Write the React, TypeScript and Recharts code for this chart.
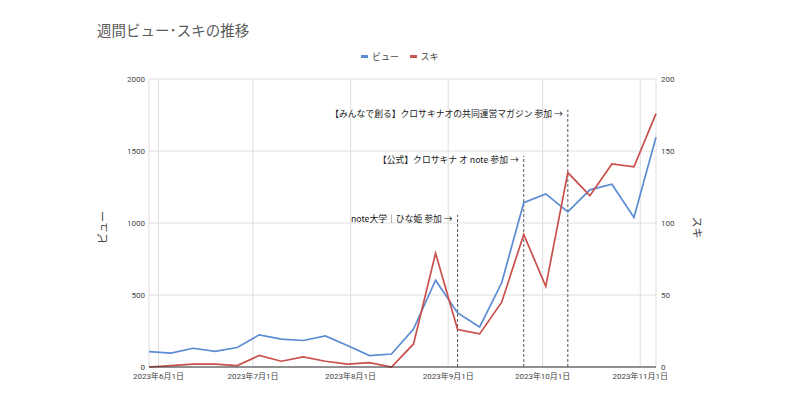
import React from 'react';
import { LineChart, Line, XAxis, YAxis, CartesianGrid, ReferenceLine, Legend } from 'recharts';

const weeks = [
  '2023-05-29', '2023-06-05', '2023-06-12', '2023-06-19', '2023-06-26', '2023-07-03',
  '2023-07-10', '2023-07-17', '2023-07-24', '2023-07-31', '2023-08-07', '2023-08-14',
  '2023-08-21', '2023-08-28', '2023-09-04', '2023-09-11', '2023-09-18', '2023-09-25',
  '2023-10-02', '2023-10-09', '2023-10-16', '2023-10-23', '2023-10-30', '2023-11-06',
];
const views = [107, 97, 130, 109, 135, 223, 193, 184, 216, 149, 79, 90, 264, 603, 376, 278, 585, 1141, 1202, 1077, 1230, 1269, 1039, 1596];
const likes = [0, 1, 2, 2, 1, 8, 4, 7, 4, 2, 3, 0, 16, 79, 26, 23, 45, 92, 56, 135, 119, 141, 139, 176];
const monthTicks = ['2023-06-01', '2023-07-01', '2023-08-01', '2023-09-01', '2023-10-01', '2023-11-01'];
const viewTicks = [0, 500, 1000, 1500, 2000];
const likeTicks = [0, 50, 100, 150, 200];
const eventDates = ['2023-09-04', '2023-09-25', '2023-10-09'];
const eventTops = [1056, 1466, 1786];
const eventTexts = [
  'note大学｜ひな姫 参加 →',
  '【公式】クロサキナ オ note 参加 →',
  '【みんなで創る】クロサキナオの共同運営マガジン 参加 →',
];
const title = '週間ビュー･スキの推移';
const viewName = 'ビュー';
const likeName = 'スキ';
const legendOrder = [viewName, likeName];

const toT = (s: string) => Date.UTC(+s.slice(0, 4), +s.slice(5, 7) - 1, +s.slice(8, 10));
const fmtDate = (t: number) => {
  const d = new Date(t);
  return `${d.getUTCFullYear()}年${d.getUTCMonth() + 1}月${d.getUTCDate()}日`;
};

const data = weeks.map((w, i) => ({ t: toT(w), views: views[i], likes: likes[i] }));

const BLUE = '#5b8bd3';
const RED = '#c9504b';
const TICK = { fontSize: 8, fill: '#444' };

const makeEventLabel = (text: string) => (props: any) => {
  const vb = props.viewBox || {};
  const x = vb.x ?? 0;
  const y = vb.y ?? 0;
  return (
    <text
      x={x - 5}
      y={y + 4}
      textAnchor="end"
      dominantBaseline="central"
      fontSize={8.8}
      fill="#1a1a1a"
      fontFamily="'Noto Sans CJK JP', sans-serif"
    >
      {text}
    </text>
  );
};

const leftTitle = (props: any) => {
  const vb = props.viewBox || {};
  const cx = (vb.x ?? 0) + 3;
  const cy = (vb.y ?? 0) + (vb.height ?? 0) / 2 + 4.5;
  return (
    <text x={cx} y={cy} transform={`rotate(-90 ${cx} ${cy})`} textAnchor="middle" dominantBaseline="central"
      fontSize={11} fill="#444" fontFamily="'Noto Sans CJK JP', sans-serif">{viewName}</text>
  );
};

const rightTitle = (props: any) => {
  const vb = props.viewBox || {};
  const cx = (vb.x ?? 0) + 41.5;
  const cy = (vb.y ?? 0) + (vb.height ?? 0) / 2 + 4.5;
  return (
    <text x={cx} y={cy} transform={`rotate(90 ${cx} ${cy})`} textAnchor="middle" dominantBaseline="central"
      fontSize={11} fill="#444" fontFamily="'Noto Sans CJK JP', sans-serif">{likeName}</text>
  );
};

const renderLegend = (props: any) => {
  const payload = [...(props.payload || [])].sort(
    (a: any, b: any) => legendOrder.indexOf(a.value) - legendOrder.indexOf(b.value)
  );
  return (
    <div style={{ display: 'flex', justifyContent: 'center', alignItems: 'center', fontSize: 9, color: '#444', fontFamily: "'Noto Sans CJK JP', sans-serif", height: 12 }}>
      {payload.map((p: any, i: number) => (
        <div key={i} style={{ display: 'flex', alignItems: 'center', marginLeft: i === 0 ? 0 : 11 }}>
          <span style={{ display: 'inline-block', width: 7, height: 3, background: p.color, marginRight: 3.5 }} />
          <span>{p.value}</span>
        </div>
      ))}
    </div>
  );
};

export default function App() {
  return (
    <div style={{ position: 'absolute', left: 0, top: 0, width: 800, height: 400, background: '#fff', fontFamily: "Roboto, 'Noto Sans CJK JP', sans-serif" }}>
      <div style={{ position: 'absolute', left: 97, top: 21, fontSize: 14.5, lineHeight: '18px', color: '#5a5a5a', fontFamily: "'Noto Sans CJK JP', sans-serif", whiteSpace: 'nowrap' }}>
        {title}
      </div>
      <LineChart width={800} height={400} data={data} margin={{ top: 79, right: 94, bottom: 13, left: 99 }}>
        <CartesianGrid stroke="#dedede" yAxisId="left" />
        <XAxis
          dataKey="t"
          type="number"
          domain={['dataMin', 'dataMax']}
          ticks={monthTicks.map(toT)}
          tickFormatter={fmtDate}
          interval={0}
          axisLine={{ stroke: '#333' }}
          tickLine={false}
          tickSize={0}
          tickMargin={6}
          tick={TICK}
          height={20}
        />
        <YAxis
          yAxisId="left"
          domain={[0, 2000]}
          ticks={viewTicks}
          axisLine={false}
          tickLine={false}
          tickSize={0}
          tickMargin={4}
          tick={TICK}
          width={50}
          label={{ content: leftTitle }}
        />
        <YAxis
          yAxisId="right"
          orientation="right"
          domain={[0, 200]}
          ticks={likeTicks}
          axisLine={false}
          tickLine={false}
          tickSize={0}
          tickMargin={5}
          tick={TICK}
          width={50}
          label={{ content: rightTitle }}
        />
        <Legend
          verticalAlign="middle"
          align="center"
          layout="horizontal"
          content={renderLegend}
          wrapperStyle={{ top: 50, left: 0, width: 800 }}
        />
        {eventDates.map((d, i) => (
          <ReferenceLine
            key={d}
            yAxisId="left"
            segment={[{ x: toT(d), y: 0 }, { x: toT(d), y: eventTops[i] }]}
            stroke="#555"
            strokeWidth={1}
            strokeDasharray="3 2"
            label={makeEventLabel(eventTexts[i])}
          />
        ))}
        <Line yAxisId="left" type="linear" dataKey="views" name={viewName} stroke={BLUE} strokeWidth={1.7} dot={false} activeDot={false} isAnimationActive={false} />
        <Line yAxisId="right" type="linear" dataKey="likes" name={likeName} stroke={RED} strokeWidth={1.7} dot={false} activeDot={false} isAnimationActive={false} />
      </LineChart>
    </div>
  );
}
